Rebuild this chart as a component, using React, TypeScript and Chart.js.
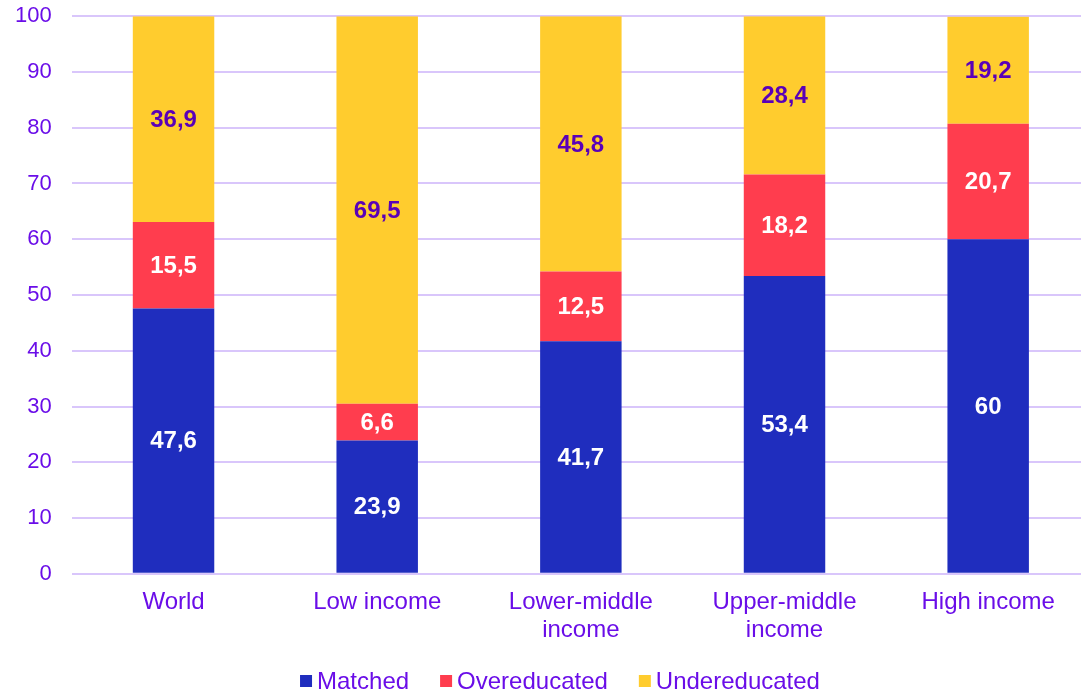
import React, { useEffect, useRef } from "react";
import { Chart, registerables } from "chart.js";

Chart.register(...registerables);

const categories: (string | string[])[] = ["World", "Low income", ["Lower-middle", "income"], ["Upper-middle", "income"], "High income"];
const matched = [47.6, 23.9, 41.7, 53.4, 60];
const overeducated = [15.5, 6.6, 12.5, 18.2, 20.7];
const undereducated = [36.9, 69.5, 45.8, 28.4, 19.2];
const yTicks = [0, 10, 20, 30, 40, 50, 60, 70, 80, 90, 100];
const seriesNames = ["Matched", "Overeducated", "Undereducated"];
const seriesColors = ["#1F2DBE", "#FF3D4E", "#FFCC2E"];

const TEXT = "#6A0DE8";
const FONT = "'Liberation Sans', Arial, sans-serif";

const labelPlugin = {
  id: "segLabels",
  afterDatasetsDraw(chart: any) {
    const ctx = chart.ctx;
    ctx.save();
    ctx.font = `bold 24px ${FONT}`;
    ctx.textAlign = "center";
    ctx.textBaseline = "middle";
    chart.data.datasets.forEach((ds: any, di: number) => {
      const meta = chart.getDatasetMeta(di);
      meta.data.forEach((bar: any, i: number) => {
        const v = ds.data[i];
        const y = (bar.y + bar.base) / 2;
        ctx.fillStyle = di === 2 ? "#5A00B8" : "#FFFFFF";
        ctx.fillText(String(v).replace(".", ","), bar.x, y + 1);
      });
    });
    ctx.restore();
  },
};

const legendPlugin = {
  id: "customLegend",
  afterDraw(chart: any) {
    const ctx = chart.ctx;
    ctx.save();
    ctx.font = `24px ${FONT}`;
    ctx.textBaseline = "middle";
    ctx.textAlign = "left";
    const box = 12;
    const gapText = 5;
    const gapItem = 31;
    const widths = seriesNames.map((n) => box + gapText + ctx.measureText(n).width);
    const total = widths.reduce((a, b) => a + b, 0) + gapItem * (widths.length - 1);
    let x = 560 - total / 2;
    const yc = chart.height - 13;
    seriesNames.forEach((n, i) => {
      ctx.fillStyle = seriesColors[i];
      ctx.fillRect(x, yc - box / 2, box, box);
      ctx.fillStyle = TEXT;
      ctx.fillText(n, x + box + gapText, yc + 1);
      x += widths[i] + gapItem;
    });
    ctx.restore();
  },
};

export default function App() {
  const ref = useRef<HTMLCanvasElement>(null);
  useEffect(() => {
    if (!ref.current) return;
    const chart = new Chart(ref.current, {
      type: "bar",
      data: {
        labels: categories,
        datasets: seriesNames.map((n, i) => ({
          label: n,
          data: [matched, overeducated, undereducated][i],
          backgroundColor: seriesColors[i],
        })),
      },
      options: {
        animation: false,
        responsive: false,
        layout: { padding: { left: -5, top: 0, right: 0, bottom: 36 } },
        datasets: { bar: { categoryPercentage: 1, barPercentage: 0.4 } },
        scales: {
          x: {
            stacked: true,
            grid: { display: false, drawTicks: false },
            border: { display: false },
            ticks: { color: TEXT, font: { family: FONT, size: 24, lineHeight: 1.17 }, padding: 14 },
          },
          y: {
            stacked: true,
            min: 0,
            max: 100,
            afterBuildTicks: (axis: any) => {
              axis.ticks = yTicks.map((v) => ({ value: v }));
            },
            grid: { color: "#D9C6FB", lineWidth: 2, drawTicks: false },
            border: { display: false },
            ticks: { color: TEXT, font: { family: FONT, size: 22 }, padding: 20 },
          },
        },
        plugins: {
          legend: { display: false },
          tooltip: { enabled: false },
        },
      },
      plugins: [labelPlugin, legendPlugin],
    });
    return () => chart.destroy();
  }, []);
  return (
    <div style={{ position: "fixed", left: 0, top: 0, width: 1081, height: 694, overflow: "hidden", background: "#fff" }}>
      <canvas ref={ref} width={1090} height={711} style={{ display: "block", position: "absolute", left: 0, top: -17 }} />
    </div>
  );
}
